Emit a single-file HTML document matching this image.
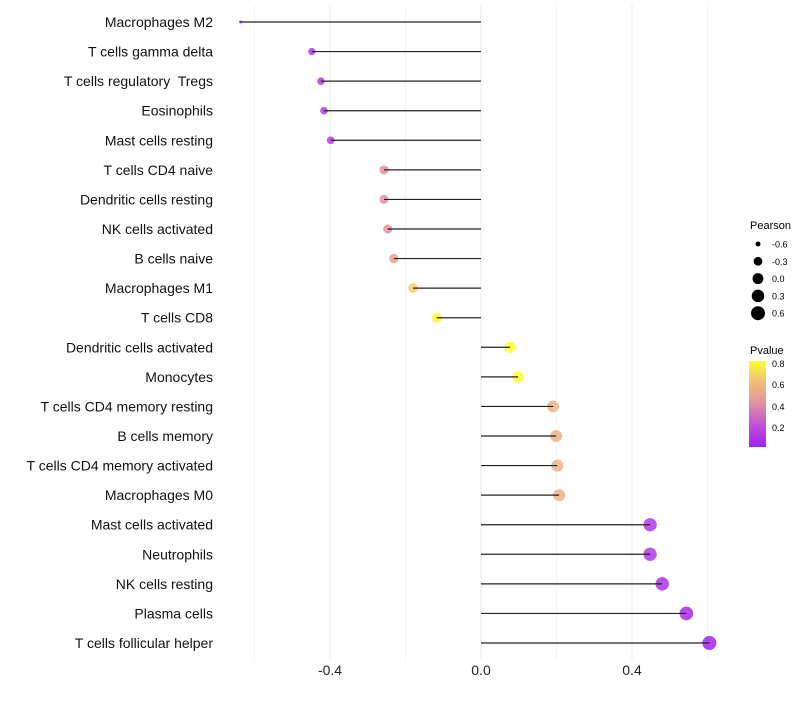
<!DOCTYPE html>
<html><head><meta charset="utf-8"><style>
body{margin:0;background:#fff;font-family:"Liberation Sans",sans-serif}
svg text{font-family:"Liberation Sans",sans-serif;white-space:pre}
</style></head><body>
<svg id="chart" width="800" height="700" xmlns="http://www.w3.org/2000/svg">
<defs><linearGradient id="pg" x1="0" y1="1" x2="0" y2="0">
<stop offset="0" stop-color="#A020F0"/><stop offset="0.25" stop-color="#C050D8"/><stop offset="0.5" stop-color="#E090A0"/><stop offset="0.75" stop-color="#F0BC7C"/><stop offset="1" stop-color="#FFFF30"/></linearGradient></defs>
<g id="grid"></g>
<g id="marks"></g>
<g id="ylabels"></g>
<g id="xlabels"></g>
<g id="sizeleg">
<text x="750" y="229" font-size="11">Pearson</text>
</g>
<g>
<text x="750" y="354" font-size="11">Pvalue</text>
<rect x="749" y="361" width="17" height="86" fill="url(#pg)"/>
<text x="772" y="367" font-size="9">0.8</text>
<text x="772" y="388" font-size="9">0.6</text>
<text x="772" y="410" font-size="9">0.4</text>
<text x="772" y="431" font-size="9">0.2</text>
</g>
</svg>
<script>
const categories=["Macrophages M2","T cells gamma delta","T cells regulatory  Tregs","Eosinophils","Mast cells resting","T cells CD4 naive","Dendritic cells resting","NK cells activated","B cells naive","Macrophages M1","T cells CD8","Dendritic cells activated","Monocytes","T cells CD4 memory resting","B cells memory","T cells CD4 memory activated","Macrophages M0","Mast cells activated","Neutrophils","NK cells resting","Plasma cells","T cells follicular helper"];
const pearson=[-0.637,-0.448,-0.424,-0.416,-0.398,-0.257,-0.257,-0.247,-0.231,-0.180,-0.117,0.077,0.098,0.191,0.199,0.202,0.207,0.448,0.448,0.480,0.544,0.605];
const pvalues=[0.01,0.1,0.12,0.12,0.13,0.4,0.4,0.42,0.48,0.65,0.78,0.82,0.8,0.55,0.55,0.55,0.55,0.1,0.1,0.08,0.05,0.02];
const xTicks=[-0.4,0,0.4];
const gridVals=[-0.6,-0.4,-0.2,0,0.2,0.4,0.6];
const legendVals=[-0.6,-0.3,0,0.3,0.6];
const NS="http://www.w3.org/2000/svg";
const x=v=>481+v*377.5;
const y=i=>22+i*(643-22)/(categories.length-1);
const pmin=Math.min(...pearson),pmax=Math.max(...pearson);
const r=v=>{const t=Math.max(0,Math.min(1,(v-pmin)/(pmax-pmin)));return 1.5+5.5*Math.sqrt(t);};
const stops=[[0,[160,32,240]],[0.2,[192,80,216]],[0.4,[224,144,160]],[0.6,[240,188,124]],[0.8,[255,255,48]]];
function col(p){p=Math.max(0,Math.min(0.8,p));for(let k=0;k<stops.length-1;k++){const[a,ca]=stops[k],[b,cb]=stops[k+1];if(p<=b){const t=(p-a)/(b-a);return "rgb("+ca.map((c,j)=>Math.round(c+(cb[j]-c)*t)).join(",")+")";}}return "rgb(255,255,48)";}
function mk(t,at,parent){const e=document.createElementNS(NS,t);for(const k in at)e.setAttribute(k,at[k]);parent.appendChild(e);return e;}
const G=document.getElementById('grid'),M=document.getElementById('marks'),YL=document.getElementById('ylabels'),XL=document.getElementById('xlabels'),SL=document.getElementById('sizeleg');
gridVals.forEach(v=>{const l=mk('line',{x1:x(v),x2:x(v),y1:5,y2:660,stroke:Math.round(Math.abs(v*10))%4===0?'#ebebeb':'#f4f4f4','stroke-width':1},G);

});
categories.forEach((c,i)=>{
const cy=y(i);
const dot=mk('circle',{cx:x(pearson[i]),cy:cy,r:r(pearson[i]),fill:col(pvalues[i]),'fill-opacity':0.85},M);


const seg=mk('line',{x1:x(0),x2:x(pearson[i]),y1:cy,y2:cy,stroke:'#222','stroke-width':1.2},M);


const t=mk('text',{x:213,y:cy+5,'font-size':14,'text-anchor':'end',fill:'#111'},YL);t.textContent=c;


});
xTicks.forEach(v=>{const t=mk('text',{x:x(v),y:675,'font-size':14,'text-anchor':'middle',fill:'#222'},XL);t.textContent=v===0?'0.0':v.toFixed(1);

});
legendVals.forEach((v,k)=>{const cy=244+k*17.3;
const c=mk('circle',{cx:758,cy:cy,r:r(v),fill:'#000'},SL);


const t=mk('text',{x:772,y:cy+3.5,'font-size':9},SL);t.textContent=v.toFixed(1);

});
</script>
</body></html>
